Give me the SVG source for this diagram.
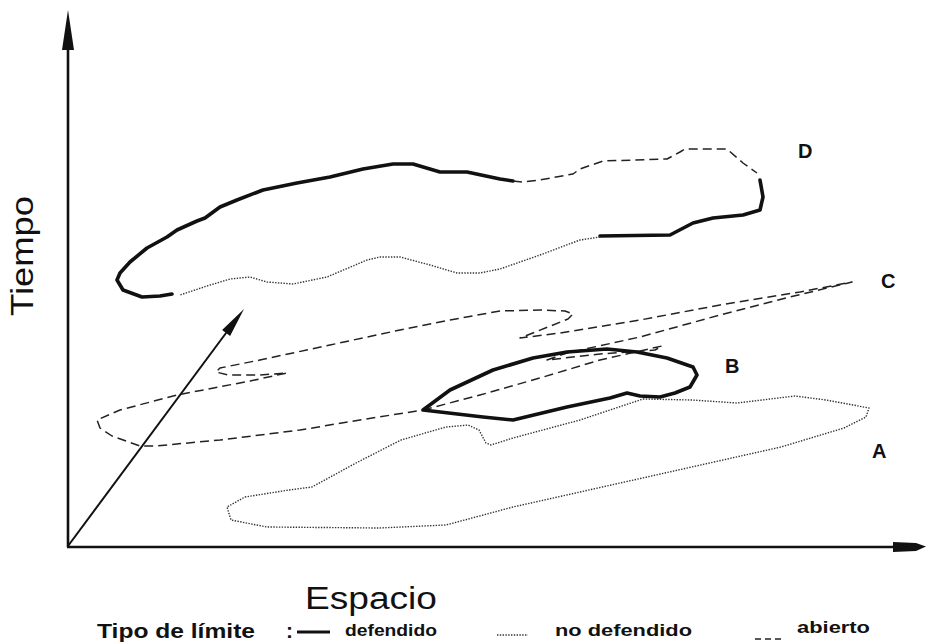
<svg xmlns="http://www.w3.org/2000/svg" width="926" height="644" viewBox="0 0 926 644">
<style>
.def{fill:none;stroke:#111;stroke-width:3.6;stroke-linejoin:round;stroke-linecap:round}
.nodef{fill:none;stroke:#333;stroke-width:1.4;stroke-dasharray:1.4 1.4;stroke-linejoin:round}
.open{fill:none;stroke:#222;stroke-width:1.5;stroke-dasharray:9 5;stroke-linejoin:round}
.axis{stroke:#111;stroke-width:2.6;fill:none}
.lbl{font-family:"Liberation Sans",Arial,sans-serif;font-weight:bold;font-size:20px;fill:#111}
.ax{font-family:"Liberation Sans",Arial,sans-serif;font-size:31px;fill:#111}
.leg{font-family:"Liberation Sans",Arial,sans-serif;font-weight:bold;fill:#111}
</style>
<rect width="926" height="644" fill="#fff"/>
<g id="axes">
<line class="axis" x1="68" y1="45" x2="68" y2="547"/>
<polygon points="68,10 74,50 62,50" fill="#111"/>
<line class="axis" x1="67" y1="547" x2="900" y2="547"/>
<polygon points="893,542 916,543 926,546.5 916,551 893,552" fill="#111"/>
<text class="ax" transform="translate(33,316) rotate(-90)" textLength="120" lengthAdjust="spacingAndGlyphs">Tiempo</text>
<text class="ax" x="305" y="609" textLength="132" lengthAdjust="spacingAndGlyphs">Espacio</text>
</g>
<g id="connectors">
<line x1="68" y1="546" x2="229" y2="329" stroke="#111" stroke-width="2"/>
<polygon points="244,309 230.1,336.1 222.1,330.1" fill="#111"/>
</g>
<g id="zona-A">
<path class="nodef" d="M643,399 L692,400 L737,403 L795,396 L826,400 L869,408 L866,417 L844,428 L781,447 L647,477 L513,507 L446,525 L379,528 L267,527 L231,520 L227,507 L245,497 L289,490 L312,487 L356,463 L401,440 L446,427 L468,425 L479,430 L486,443 L491,445 L513,438 L580,420 Z"/>
<text class="lbl" x="872" y="458">A</text>
</g>
<g id="zona-C">
<path class="open" d="M423,410 L480,395 L540,378 L600,360 L662,346 L655,350 L600,354 L547,360 L567,353 L640,337 L720,315 L790,297 L852,282 L800,292 L720,305 L640,320 L560,333 L520,338 L548,327 L568,319 L573,314 L565,311 L540,310 L500,311 L450,320 L400,330 L330,345 L260,360 L220,368 L216,372 L228,375 L260,375 L287,373 L250,381 L177,395 L120,410 L97,420 L100,428 L112,436 L140,446 L155,446 L220,440 L300,430 L360,420 Z"/>
<text class="lbl" x="881" y="288">C</text>
</g>
<g id="zona-B">
<path class="def" d="M423,410 L450,390 L493,370 L533,358 L567,352 L607,349 L637,352 L667,358 L693,367 L697,375 L690,387 L675,393 L660,397 L640,396 L627,393 L610,398 L567,407 L513,420 L483,417 Z"/>
<text class="lbl" x="725" y="373">B</text>
</g>
<g id="zona-D">
<path class="def" d="M172,294 L160,296 L142,297 L123,290 L117,280 L120,273 L130,262 L147,248 L167,237 L177,230 L197,221 L205,218 L220,207 L237,200 L263,190 L297,183 L330,177 L363,169 L393,164 L413,164 L440,172 L467,172 L500,179 L513,181"/>
<path class="open" d="M513,181 L523,182 L540,180 L573,174 L580,169 L603,161 L667,159 L680,152 L685,149 L727,149 L743,163 L757,173"/>
<path class="def" d="M760,180 L763,197 L760,210 L743,215 L713,218 L693,223 L670,235 L600,236"/>
<path class="nodef" d="M600,237 L580,240 L540,255 L500,269 L480,273 L457,273 L430,265 L400,257 L380,257 L367,260 L327,277 L293,284 L267,282 L250,277 L230,279 L207,286 L180,295"/>
<text class="lbl" x="798" y="158">D</text>
</g>
<g id="leyenda">
<text class="leg" x="97" y="638" font-size="21" textLength="158" lengthAdjust="spacingAndGlyphs">Tipo de límite</text>
<text class="leg" x="286" y="638" font-size="21">:</text>
<line x1="297" y1="632" x2="330" y2="632" stroke="#111" stroke-width="3"/>
<text class="leg" x="345" y="636" font-size="17" textLength="92" lengthAdjust="spacingAndGlyphs">defendido</text>
<line class="nodef" x1="497" y1="635" x2="528" y2="635"/>
<text class="leg" x="555" y="636" font-size="17" textLength="137" lengthAdjust="spacingAndGlyphs">no defendido</text>
<line x1="755" y1="639" x2="782" y2="639" stroke="#222" stroke-width="1.5" stroke-dasharray="6 4"/>
<text class="leg" x="797" y="633" font-size="17" textLength="73" lengthAdjust="spacingAndGlyphs">abierto</text>
</g>
</svg>
